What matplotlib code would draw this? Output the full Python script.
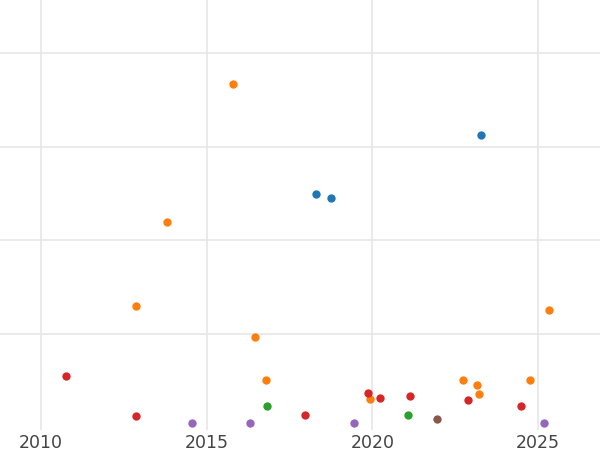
import matplotlib.pyplot as plt

# x = year, y = value (no y labels shown)
blue_x = [2023.28, 2018.30, 2018.75]
blue_y = [3.13, 2.49, 2.45]
orange_x = [2015.80, 2013.80, 2012.87, 2025.33, 2016.46, 2016.79, 2022.74, 2024.76, 2023.16, 2023.22, 2019.93]
orange_y = [3.67, 2.19, 1.30, 1.25, 0.96, 0.51, 0.50, 0.51, 0.45, 0.36, 0.30]
red_x = [2010.75, 2012.87, 2017.97, 2019.87, 2020.23, 2021.14, 2022.89, 2024.49]
red_y = [0.55, 0.12, 0.13, 0.37, 0.31, 0.33, 0.29, 0.23]
green_x = [2016.82, 2021.08]
green_y = [0.23, 0.13]
brown_x = [2021.95]
brown_y = [0.09]
purple_x = [2014.56, 2016.31, 2019.45, 2025.18]
purple_y = [0.05, 0.05, 0.04, 0.05]

fig = plt.figure(figsize=(6, 4.5), dpi=100)
ax = fig.add_axes([0, 20 / 450, 1, 430 / 450])
series = [(blue_x, blue_y, '#1f77b4'), (orange_x, orange_y, '#ff7f0e'),
          (red_x, red_y, '#d62728'), (green_x, green_y, '#2ca02c'),
          (brown_x, brown_y, '#8c564b'), (purple_x, purple_y, '#9467bd')]
for xs, ys, c in series:
    ax.scatter(xs, ys, s=36, color=c, zorder=3, clip_on=False, linewidths=0)

ax.set_xlim(2008.76, 2026.87)
ax.set_ylim(-0.03, 4.57)
ax.set_xticks([2010, 2015, 2020, 2025])
ax.set_yticks([1, 2, 3, 4])
ax.set_yticklabels([])
ax.grid(True, color='#e6e6e6', linewidth=1.2)
ax.set_axisbelow(True)
for s in ax.spines.values():
    s.set_visible(False)
ax.tick_params(length=0, labelsize=12.5, colors='#444444', pad=3)
fig.savefig('out.png')
